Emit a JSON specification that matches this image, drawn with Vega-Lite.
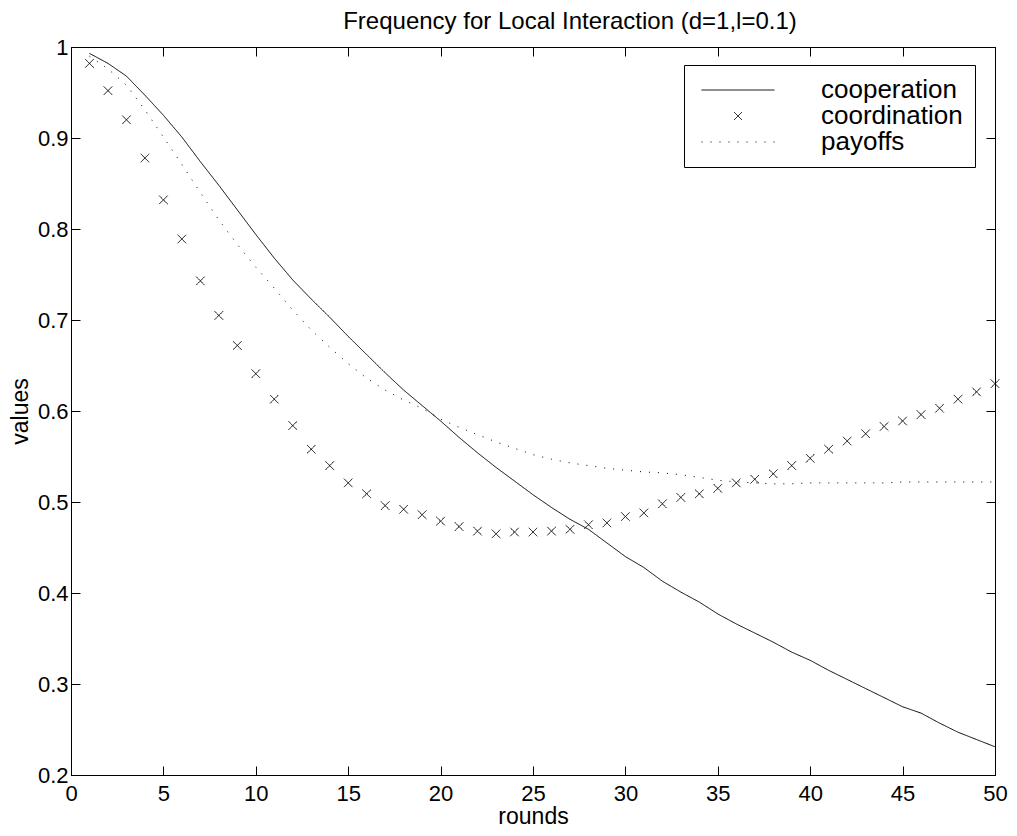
{
  "$schema": "https://vega.github.io/schema/vega-lite/v6.json",
  "width": 924,
  "height": 728,
  "autosize": {"type": "none"},
  "padding": {"left": 71, "top": 47, "right": 22, "bottom": 61},
  "title": {
    "text": "Frequency for Local Interaction (d=1,l=0.1)",
    "font": "Liberation Sans",
    "fontSize": 24,
    "fontWeight": "normal",
    "color": "black",
    "anchor": "middle",
    "dx": 37,
    "offset": 2
  },
  "config": {
    "view": {"stroke": "black", "strokeWidth": 1},
    "font": "Liberation Sans",
    "axis": {
      "grid": false,
      "domainColor": "black",
      "domainWidth": 1,
      "tickColor": "black",
      "tickWidth": 1,
      "tickSize": -9,
      "labelColor": "black",
      "labelFont": "Liberation Sans",
      "labelFontSize": 22,
      "labelFlush": false,
      "labelOverlap": false,
      "titleColor": "black",
      "titleFont": "Liberation Sans",
      "titleFontSize": 23,
      "titleFontWeight": "normal"
    }
  },
  "data": {
    "values": [
      {"rounds": 1, "cooperation": 0.993, "coordination": 0.982, "payoffs": 0.990},
      {"rounds": 2, "cooperation": 0.982, "coordination": 0.952, "payoffs": 0.976},
      {"rounds": 3, "cooperation": 0.968, "coordination": 0.920, "payoffs": 0.958},
      {"rounds": 4, "cooperation": 0.947, "coordination": 0.878, "payoffs": 0.931},
      {"rounds": 5, "cooperation": 0.925, "coordination": 0.832, "payoffs": 0.901},
      {"rounds": 6, "cooperation": 0.901, "coordination": 0.789, "payoffs": 0.871},
      {"rounds": 7, "cooperation": 0.874, "coordination": 0.743, "payoffs": 0.840},
      {"rounds": 8, "cooperation": 0.848, "coordination": 0.705, "payoffs": 0.810},
      {"rounds": 9, "cooperation": 0.821, "coordination": 0.672, "payoffs": 0.783},
      {"rounds": 10, "cooperation": 0.794, "coordination": 0.641, "payoffs": 0.758},
      {"rounds": 11, "cooperation": 0.768, "coordination": 0.613, "payoffs": 0.735},
      {"rounds": 12, "cooperation": 0.744, "coordination": 0.584, "payoffs": 0.711},
      {"rounds": 13, "cooperation": 0.723, "coordination": 0.558, "payoffs": 0.689},
      {"rounds": 14, "cooperation": 0.703, "coordination": 0.540, "payoffs": 0.670},
      {"rounds": 15, "cooperation": 0.682, "coordination": 0.521, "payoffs": 0.652},
      {"rounds": 16, "cooperation": 0.662, "coordination": 0.509, "payoffs": 0.636},
      {"rounds": 17, "cooperation": 0.642, "coordination": 0.496, "payoffs": 0.623},
      {"rounds": 18, "cooperation": 0.623, "coordination": 0.492, "payoffs": 0.612},
      {"rounds": 19, "cooperation": 0.606, "coordination": 0.486, "payoffs": 0.603},
      {"rounds": 20, "cooperation": 0.589, "coordination": 0.479, "payoffs": 0.591},
      {"rounds": 21, "cooperation": 0.571, "coordination": 0.473, "payoffs": 0.582},
      {"rounds": 22, "cooperation": 0.554, "coordination": 0.468, "payoffs": 0.574},
      {"rounds": 23, "cooperation": 0.538, "coordination": 0.465, "payoffs": 0.566},
      {"rounds": 24, "cooperation": 0.523, "coordination": 0.467, "payoffs": 0.559},
      {"rounds": 25, "cooperation": 0.508, "coordination": 0.467, "payoffs": 0.552},
      {"rounds": 26, "cooperation": 0.494, "coordination": 0.468, "payoffs": 0.547},
      {"rounds": 27, "cooperation": 0.481, "coordination": 0.470, "payoffs": 0.543},
      {"rounds": 28, "cooperation": 0.470, "coordination": 0.475, "payoffs": 0.540},
      {"rounds": 29, "cooperation": 0.455, "coordination": 0.477, "payoffs": 0.537},
      {"rounds": 30, "cooperation": 0.440, "coordination": 0.484, "payoffs": 0.535},
      {"rounds": 31, "cooperation": 0.428, "coordination": 0.488, "payoffs": 0.533},
      {"rounds": 32, "cooperation": 0.413, "coordination": 0.498, "payoffs": 0.532},
      {"rounds": 33, "cooperation": 0.401, "coordination": 0.505, "payoffs": 0.530},
      {"rounds": 34, "cooperation": 0.390, "coordination": 0.509, "payoffs": 0.527},
      {"rounds": 35, "cooperation": 0.377, "coordination": 0.515, "payoffs": 0.524},
      {"rounds": 36, "cooperation": 0.366, "coordination": 0.521, "payoffs": 0.522},
      {"rounds": 37, "cooperation": 0.356, "coordination": 0.525, "payoffs": 0.521},
      {"rounds": 38, "cooperation": 0.346, "coordination": 0.531, "payoffs": 0.520},
      {"rounds": 39, "cooperation": 0.335, "coordination": 0.540, "payoffs": 0.520},
      {"rounds": 40, "cooperation": 0.326, "coordination": 0.548, "payoffs": 0.521},
      {"rounds": 41, "cooperation": 0.315, "coordination": 0.558, "payoffs": 0.521},
      {"rounds": 42, "cooperation": 0.305, "coordination": 0.567, "payoffs": 0.521},
      {"rounds": 43, "cooperation": 0.295, "coordination": 0.575, "payoffs": 0.521},
      {"rounds": 44, "cooperation": 0.285, "coordination": 0.583, "payoffs": 0.521},
      {"rounds": 45, "cooperation": 0.275, "coordination": 0.589, "payoffs": 0.522},
      {"rounds": 46, "cooperation": 0.268, "coordination": 0.596, "payoffs": 0.522},
      {"rounds": 47, "cooperation": 0.257, "coordination": 0.603, "payoffs": 0.522},
      {"rounds": 48, "cooperation": 0.247, "coordination": 0.613, "payoffs": 0.522},
      {"rounds": 49, "cooperation": 0.239, "coordination": 0.621, "payoffs": 0.522},
      {"rounds": 50, "cooperation": 0.231, "coordination": 0.630, "payoffs": 0.522}
    ]
  },
  "transform": [
    {"fold": ["cooperation", "coordination", "payoffs"], "as": ["series", "value"]}
  ],
  "layer": [
    {
      "transform": [{"filter": "datum.series !== 'coordination'"}],
      "mark": {"type": "line", "color": "black", "strokeWidth": 1, "strokeCap": "butt"},
      "encoding": {
        "x": {
          "field": "rounds", "type": "quantitative",
          "scale": {"domain": [0, 50], "nice": false, "zero": false},
          "axis": {"orient": "bottom", "values": [0, 5, 10, 15, 20, 25, 30, 35, 40, 45, 50], "labelPadding": 17, "title": "rounds", "titlePadding": 1}
        },
        "y": {
          "field": "value", "type": "quantitative",
          "scale": {"domain": [0.2, 1], "nice": false, "zero": false},
          "axis": {"orient": "left", "values": [0.2, 0.3, 0.4, 0.5, 0.6, 0.7, 0.8, 0.9, 1], "format": "~g", "labelPadding": 12, "title": "values", "titlePadding": 5}
        },
        "strokeDash": {
          "field": "series", "type": "nominal",
          "scale": {"domain": ["cooperation", "coordination", "payoffs"], "range": [[1, 0], [1, 0], [1, 8]]},
          "legend": {
            "title": null,
            "orient": "none",
            "legendX": 613,
            "legendY": 18,
            "symbolType": "stroke",
            "symbolSize": 5329,
            "symbolStrokeColor": "black",
            "symbolStrokeWidth": 1,
            "symbolOffset": 5,
            "clipHeight": 26,
            "rowPadding": 0,
            "padding": 12,
            "labelOffset": 46,
            "labelFont": "Liberation Sans",
            "labelFontSize": 26,
            "labelColor": "black",
            "labelLimit": 400,
            "strokeColor": "black",
            "fillColor": "white",
            "cornerRadius": 0,
            "encode": {
              "symbols": {
                "update": {
                  "shape": {"signal": "datum.value === 'coordination' ? 'M-1,-1L1,1M-1,1L1,-1' : 'stroke'"},
                  "size": {"signal": "datum.value === 'coordination' ? 64 : 5329"},
                  "stroke": {"value": "black"},
                  "fill": {"value": "transparent"},
                  "strokeWidth": {"value": 1}
                }
              }
            }
          }
        }
      }
    },
    {
      "transform": [{"filter": "datum.series === 'coordination'"}],
      "mark": {"type": "point", "shape": "M-1,-1L1,1M-1,1L1,-1", "filled": false, "color": "black", "size": 72, "strokeWidth": 1, "opacity": 1},
      "encoding": {
        "x": {
          "field": "rounds", "type": "quantitative",
          "axis": {"orient": "top", "values": [0, 5, 10, 15, 20, 25, 30, 35, 40, 45, 50], "labels": false, "title": null}
        },
        "y": {
          "field": "value", "type": "quantitative",
          "axis": {"orient": "right", "values": [0.2, 0.3, 0.4, 0.5, 0.6, 0.7, 0.8, 0.9, 1], "labels": false, "title": null}
        },
        "strokeDash": {"field": "series", "type": "nominal"}
      }
    }
  ],
  "resolve": {"axis": {"x": "independent", "y": "independent"}}
}
